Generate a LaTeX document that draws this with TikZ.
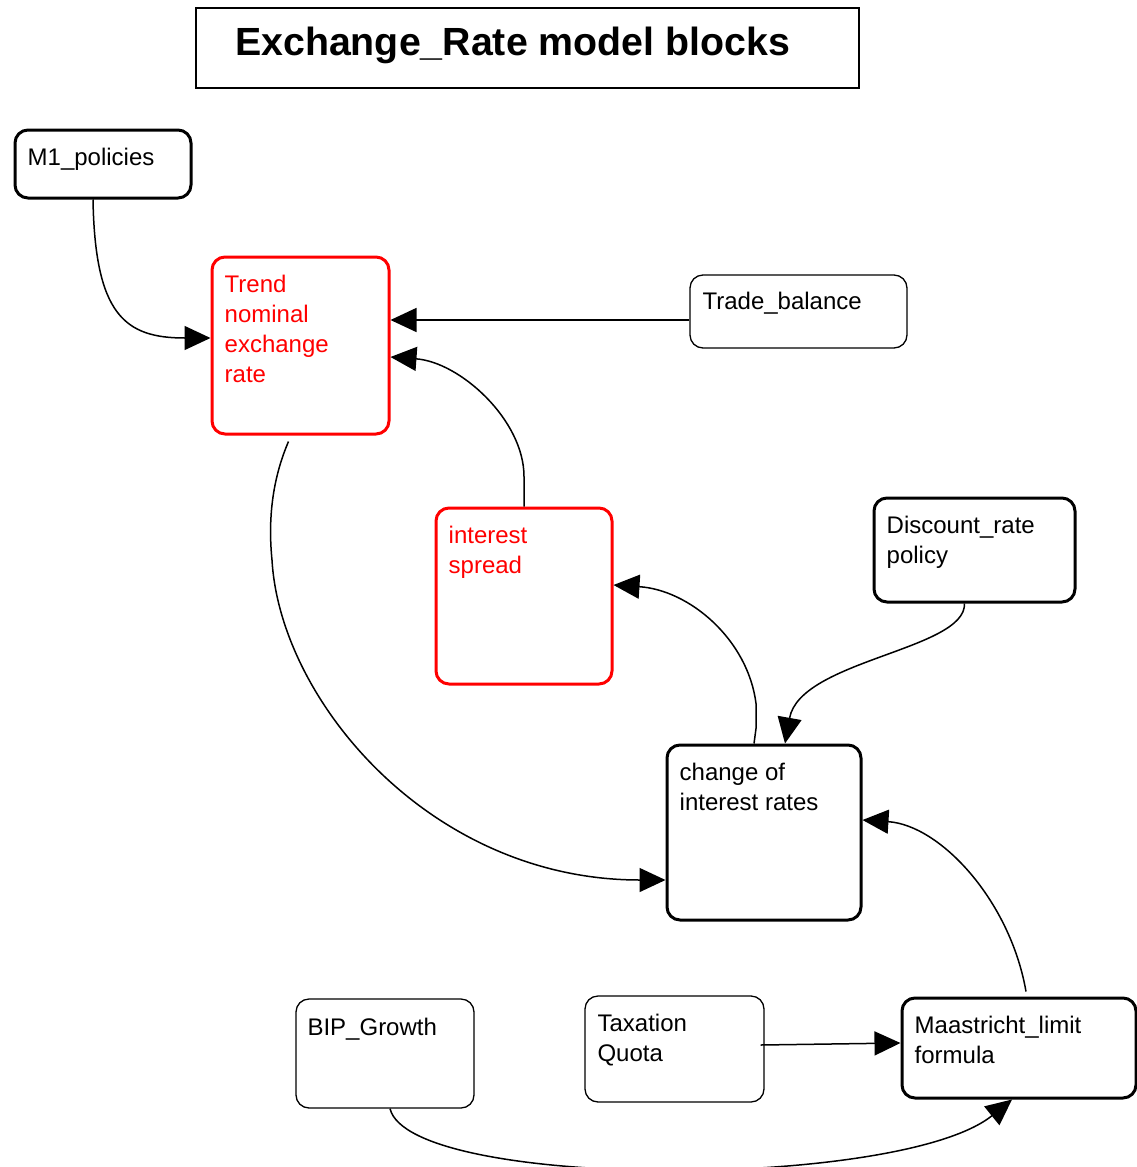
\documentclass[tikz,border=0pt]{standalone}
\usepackage{fontspec}
\setmainfont{Liberation Sans}
\usetikzlibrary{arrows.meta}
\begin{document}
\begin{tikzpicture}[x=1pt,y=-1pt,
  every node/.style={font=\fontsize{24}{30}\selectfont},
  blk/.style={draw, rounded corners=13pt, line width=3pt, inner sep=0pt},
  thinblk/.style={blk, line width=1.3pt},
  hot/.style={blk, draw=red},
  lbl/.style={anchor=north west, inner sep=0pt, align=left, xshift=14pt, yshift=-15pt},
  link/.style={line width=1.5pt, -{Triangle[length=26pt,width=24pt]}},
]
\useasboundingbox (0,0) rectangle (1137,1167);

% title
\node[draw, line width=1.3pt, minimum width=663pt, minimum height=80pt, inner sep=0pt] (title) at (527.5,48) {};
\node[anchor=base west, inner sep=0pt, font=\fontsize{39.3}{44}\selectfont\bfseries] (titletext) at (235,55) {Exchange\_Rate model blocks};

% blocks
\newcommand\firstline{\rule{0pt}{22pt}}
\node[blk, minimum width=176pt, minimum height=68pt, label={[lbl]north west:\firstline M1\_policies}] (m1) at (103,164) {};
\node[hot, minimum width=177pt, minimum height=177pt, label={[lbl, text=red]north west:\firstline Trend\\nominal\\exchange\\rate}] (tr) at (300.5,345.5) {};
\node[thinblk, minimum width=217pt, minimum height=73pt, label={[lbl, xshift=-1pt, yshift=2pt]north west:\firstline Trade\_balance}] (tb) at (798.5,311.5) {};
\node[hot, minimum width=176pt, minimum height=176pt, label={[lbl, text=red]north west:\firstline interest\\spread}] (is) at (524,596) {};
\node[blk, minimum width=201pt, minimum height=104pt, label={[lbl]north west:\firstline Discount\_rate\\policy}] (dr) at (974.5,550) {};
\node[blk, minimum width=194pt, minimum height=175pt, label={[lbl]north west:\firstline change of\\interest rates}] (ci) at (764,832.5) {};
\node[thinblk, minimum width=178pt, minimum height=109pt, label={[lbl, xshift=-2pt]north west:\firstline BIP\_Growth}] (bip) at (385,1053.5) {};
\node[thinblk, minimum width=179pt, minimum height=106pt, label={[lbl, xshift=-1pt, yshift=1pt]north west:\firstline Taxation\\Quota}] (tq) at (674.5,1049) {};
\node[blk, minimum width=234pt, minimum height=100pt, label={[lbl]north west:\firstline Maastricht\_limit\\formula}] (ml) at (1019,1048) {};

% connectors
\draw[link] ([xshift=-10pt]m1.south) .. controls (95,315) and (125,338) .. (tr.west |- 0,338);
\draw[link] (tb.west |- 0,320) -- (tr.east |- 0,320);
\draw[link] (is.north) -- ++(0,-30) .. controls (524,420) and (460,362) .. (tr.east |- 0,357);
\draw[link] ([xshift=-12pt,yshift=-6pt]tr.south) .. controls (272,480) and (268,520) .. (272,560)
  .. controls (280,700) and (430,880) .. (ci.west |- 0,880);
\draw[link] ([xshift=-10pt]ci.north) -- ++(2,-15) -- ++(0,-25) .. controls (748,640) and (690,590) .. (is.east |- 0,585);
\draw[link] ([xshift=-10pt]dr.south) .. controls (966,650) and (800,660) .. ([xshift=21pt]ci.north);
\draw[link] ([xshift=7pt,yshift=5pt]ml.north) .. controls (1010,900) and (940,825) .. (ci.east |- 0,820);
\draw[link] ([shift={(-4pt,4pt)}]tq.east) -- (ml.west |- 0,1043);
\draw[link] ([xshift=5pt]bip.south) .. controls (410,1190) and (900,1190) .. ([xshift=-7pt]ml.south);
\end{tikzpicture}
\end{document}
